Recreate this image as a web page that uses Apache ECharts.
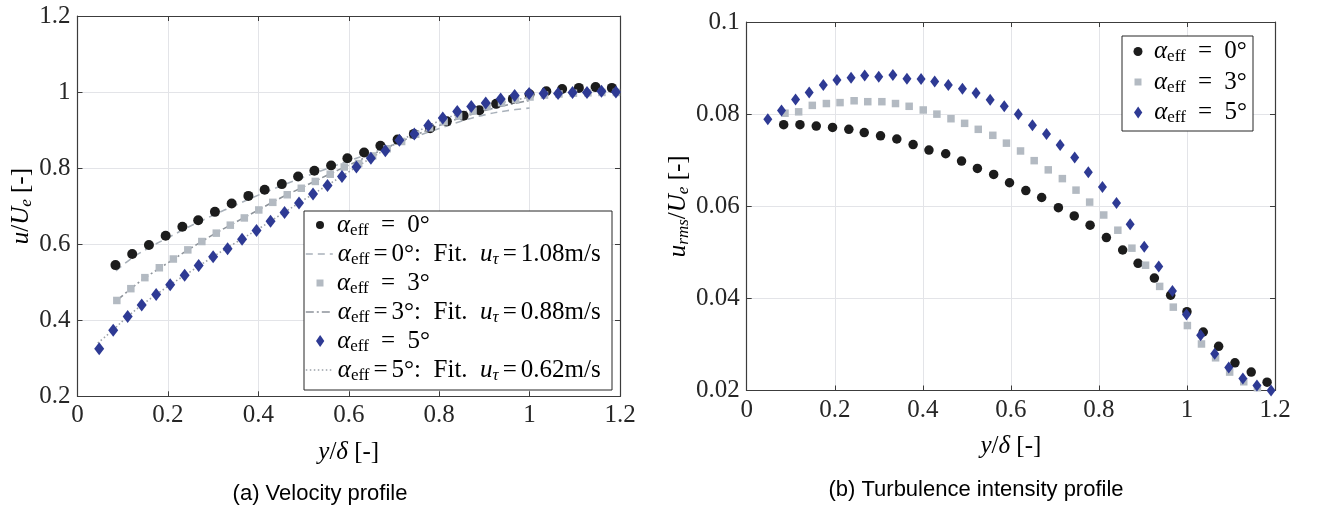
<!DOCTYPE html>
<html><head><meta charset="utf-8">
<script src="https://cdn.jsdelivr.net/npm/echarts@6/dist/echarts.min.js"></script>
<style>html,body{margin:0;padding:0;background:#fff}#c{width:1317px;height:514px}</style>
</head><body><div id="c"></div>
<script>
// ---------- data ----------
const xTicks = [0, 0.2, 0.4, 0.6, 0.8, 1, 1.2];
const uTicks = [0.2, 0.4, 0.6, 0.8, 1, 1.2];
const tTicks = [0.02, 0.04, 0.06, 0.08, 0.1];

const xCirc = [0.084,0.121,0.158,0.195,0.232,0.267,0.304,0.341,0.378,0.414,0.452,0.488,0.524,0.561,0.597,0.634,0.670,0.708,0.744,0.780,0.817,0.854,0.889,0.926,0.963,1.000,1.037,1.072,1.109,1.146,1.182];
const xSq = [0.087,0.118,0.149,0.181,0.212,0.244,0.275,0.307,0.338,0.369,0.401,0.432,0.464,0.495,0.526,0.559,0.590,0.622,0.653,0.685,0.717,0.748,0.779,0.811,0.843,0.875,0.906,0.938,0.969,1.001,1.033,1.065,1.097,1.129,1.160,1.192];
const xDia = [0.048,0.079,0.111,0.142,0.174,0.205,0.237,0.268,0.300,0.332,0.364,0.396,0.427,0.458,0.490,0.521,0.553,0.585,0.617,0.649,0.681,0.712,0.745,0.776,0.808,0.840,0.871,0.903,0.936,0.967,0.999,1.031,1.063,1.095,1.127,1.159,1.191];

// (a) velocity profile u/Ue
const uA0 = [0.545,0.574,0.598,0.622,0.646,0.663,0.685,0.707,0.727,0.743,0.758,0.778,0.793,0.807,0.826,0.841,0.859,0.875,0.890,0.905,0.923,0.938,0.952,0.969,0.982,0.994,1.002,1.008,1.011,1.013,1.011];
const uA3 = [0.452,0.483,0.512,0.538,0.561,0.585,0.607,0.629,0.650,0.669,0.690,0.710,0.730,0.747,0.765,0.784,0.803,0.812,0.832,0.851,0.870,0.889,0.906,0.922,0.937,0.950,0.962,0.972,0.980,0.987,0.992,0.995,0.997,0.998,0.999,0.999];
const uA5 = [0.325,0.374,0.410,0.440,0.468,0.493,0.518,0.544,0.567,0.588,0.613,0.636,0.660,0.683,0.708,0.732,0.754,0.778,0.803,0.826,0.846,0.873,0.890,0.912,0.932,0.949,0.962,0.971,0.982,0.991,0.996,0.996,0.996,0.999,0.999,1.002,1.000];

// log-law fits
const fitX0 = [0.085,0.12,0.16,0.2,0.25,0.3,0.35,0.4,0.45,0.5,0.55,0.6,0.65,0.7,0.75,0.8,0.85,0.9,0.95,1.0];
const fitY0 = [0.530,0.563,0.592,0.617,0.648,0.676,0.703,0.729,0.753,0.776,0.798,0.819,0.840,0.862,0.884,0.904,0.924,0.940,0.951,0.958];
const fitX3 = [0.087,0.12,0.15,0.2,0.25,0.3,0.35,0.4,0.45,0.5,0.55,0.6,0.65,0.7,0.75,0.8,0.85,0.9,0.95,1.0];
const fitY3 = [0.452,0.485,0.512,0.551,0.589,0.625,0.658,0.690,0.722,0.751,0.780,0.808,0.835,0.862,0.888,0.912,0.933,0.951,0.966,0.978];
const fitX5 = [0.045,0.08,0.11,0.15,0.2,0.25,0.3,0.35,0.4,0.45,0.5,0.55,0.6,0.65,0.7,0.75,0.8,0.85,0.9,0.95,1.0];
const fitY5 = [0.340,0.376,0.409,0.447,0.489,0.528,0.567,0.604,0.640,0.678,0.716,0.753,0.790,0.827,0.862,0.895,0.924,0.945,0.962,0.975,0.986];

// (b) turbulence intensity urms/Ue
const tB0 = [0.0777,0.0777,0.0774,0.0771,0.0767,0.0760,0.0753,0.0746,0.0734,0.0722,0.0714,0.0698,0.0682,0.0669,0.0651,0.0634,0.0619,0.0597,0.0579,0.0559,0.0532,0.0505,0.0476,0.0444,0.0407,0.0371,0.0327,0.0296,0.0260,0.0240,0.0218];
const tB3 = [0.0802,0.0805,0.0819,0.0823,0.0825,0.0829,0.0827,0.0827,0.0823,0.0817,0.0809,0.0800,0.0790,0.0780,0.0767,0.0754,0.0737,0.0720,0.0699,0.0679,0.0660,0.0635,0.0609,0.0581,0.0548,0.0509,0.0472,0.0426,0.0381,0.0341,0.0301,0.0271,0.0240,0.0219,0.0206,0.0199];
const tB5 = [0.0789,0.0808,0.0832,0.0847,0.0863,0.0874,0.0879,0.0884,0.0881,0.0885,0.0877,0.0876,0.0871,0.0863,0.0855,0.0846,0.0831,0.0817,0.0800,0.0776,0.0757,0.0733,0.0706,0.0674,0.0642,0.0607,0.0561,0.0512,0.0469,0.0416,0.0365,0.0320,0.0280,0.0250,0.0226,0.0211,0.0200];

// ---------- styling ----------
const SERIF = '"Liberation Serif","DejaVu Serif",serif';
const SANS = '"Liberation Sans",Arial,sans-serif';
const AX = '#3c3c3c', GRID = '#e3e4e8';
const C_BLACK = '#1c1c1c', C_GRAY = '#b3bac2', C_BLUE = '#2e3a94';
const FS = 25;
const R = {
  m:{fontFamily:SERIF,fontStyle:'italic',fontSize:FS,lineHeight:28,color:'#000'},
  r:{fontFamily:SERIF,fontSize:FS,lineHeight:28,color:'#000'},
  e:{fontFamily:SERIF,fontSize:FS,lineHeight:28,color:'#000',padding:[0,6,0,6]},
  q:{fontFamily:SERIF,fontSize:FS,lineHeight:28,color:'#000',padding:[0,4,0,4]},
  s:{fontFamily:SERIF,fontSize:17,lineHeight:17,verticalAlign:'bottom',color:'#000'},
  si:{fontFamily:SERIF,fontStyle:'italic',fontSize:17,lineHeight:17,verticalAlign:'bottom',color:'#000'}
};
const LABELS = {
  c0:'{m|α}{s|eff}{e| = }{r|0°}',
  f0:'{m|α}{s|eff}{q|=}{r|0°:  Fit.  }{m|u}{si|τ}{q|=}{r|1.08m/s}',
  s3:'{m|α}{s|eff}{e| = }{r|3°}',
  f3:'{m|α}{s|eff}{q|=}{r|3°:  Fit.  }{m|u}{si|τ}{q|=}{r|0.88m/s}',
  d5:'{m|α}{s|eff}{e| = }{r|5°}',
  f5:'{m|α}{s|eff}{q|=}{r|5°:  Fit.  }{m|u}{si|τ}{q|=}{r|0.62m/s}',
  C0:'{m|α}{s|eff}{e| = }{r|0°}',
  S3:'{m|α}{s|eff}{e| = }{r|3°}',
  D5:'{m|α}{s|eff}{e| = }{r|5°}'
};
const zip = (xs, ys) => xs.map((x, i) => [x, ys[i]]);
const fmt = v => String(+(+v).toFixed(4));

function mainX(grid, ticks, nameGap){
  return {gridIndex:grid, type:'value', min:ticks[0], max:ticks[ticks.length-1], interval:ticks[1]-ticks[0], position:'bottom',
    axisLine:{show:true,onZero:false,lineStyle:{color:AX,width:1.2}},
    axisTick:{show:true,inside:true,length:5,lineStyle:{color:AX}},
    axisLabel:{margin:7,fontFamily:SERIF,fontSize:FS,color:'#262626',formatter:fmt},
    splitLine:{show:true,lineStyle:{color:GRID,width:1}},
    name:'{m|y}{r|/}{m|δ}{r| [-]}', nameLocation:'middle', nameGap:nameGap, nameTextStyle:{rich:R}};
}
function mirrorX(grid, ticks){
  return {gridIndex:grid, type:'value', min:ticks[0], max:ticks[ticks.length-1], interval:ticks[1]-ticks[0], position:'top',
    axisLine:{show:true,onZero:false,lineStyle:{color:AX,width:1.2}},
    axisTick:{show:true,inside:true,length:5,lineStyle:{color:AX}},
    axisLabel:{show:false}, splitLine:{show:false}};
}
function mainY(grid, ticks, name, nameGap){
  return {gridIndex:grid, type:'value', min:ticks[0], max:ticks[ticks.length-1], interval:+(ticks[1]-ticks[0]).toFixed(4), position:'left',
    axisLine:{show:true,onZero:false,lineStyle:{color:AX,width:1.2}},
    axisTick:{show:true,inside:true,length:5,lineStyle:{color:AX}},
    axisLabel:{margin:7,fontFamily:SERIF,fontSize:FS,color:'#262626',formatter:fmt},
    splitLine:{show:true,lineStyle:{color:GRID,width:1}},
    name:name, nameLocation:'middle', nameGap:nameGap, nameTextStyle:{rich:R}};
}
function mirrorY(grid, ticks){
  return {gridIndex:grid, type:'value', min:ticks[0], max:ticks[ticks.length-1], interval:+(ticks[1]-ticks[0]).toFixed(4), position:'right',
    axisLine:{show:true,onZero:false,lineStyle:{color:AX,width:1.2}},
    axisTick:{show:true,inside:true,length:5,lineStyle:{color:AX}},
    axisLabel:{show:false}, splitLine:{show:false}};
}
// legend entry: the legend box is laid out from the visible bounding box,
// so marker icons are placed from their own left edge.
function leg(name, left, cy, iw, ih, extra){
  return {show:true, data:[Object.assign({name:name}, extra||{})], left:left, top:cy-14, orient:'vertical',
    itemWidth:iw, itemHeight:ih, itemGap:0, padding:0, selectedMode:false, z:6,
    formatter:n=>LABELS[n], textStyle:{rich:R, fontFamily:SERIF, fontSize:FS, color:'#000'}};
}
// marker legend: icon centred at cx, text starting at tx
function legM(name, cx, tx, cy, w, h, extra){
  const iw = 2 * (tx - cx - 5);
  return leg(name, cx - w / 2, cy, iw, h, extra);
}
const SQ_ICON = 'path://M0,0L10,0L10,10L0,10Z';
const DI_ICON = 'path://M4.5,0L9,6.5L4.5,13L0,6.5Z';
const lineItem = (c, t) => ({itemStyle:{opacity:0}, lineStyle:{color:c, width:1.6, type:t}});

const F0T = [7,5], F3T = [8,3,2,3], F5T = [1.5,2.5];
const F0C = '#a9b1ba', F3C = '#8d939a', F5C = '#9ba1a8';

const scatter = (name, xi, yi, data, sym, size, color) => ({type:'scatter', name:name, xAxisIndex:xi, yAxisIndex:yi, data:data,
  symbol:sym, symbolSize:size, itemStyle:{color:color, opacity:1}, emphasis:{disabled:true}, z:2});
const fitLine = (name, data, color, type) => ({type:'line', name:name, xAxisIndex:0, yAxisIndex:0, data:data, smooth:0.35,
  symbol:'none', lineStyle:{color:color, width:1.6, type:type}, emphasis:{disabled:true}, z:2});

const chart = echarts.init(document.getElementById('c'), null, {renderer:'canvas'});
chart.setOption({
  animation:false,
  backgroundColor:'#fff',
  grid:[
    {left:77.5, right:697, top:16, bottom:117.7, containLabel:false},
    {left:746.7, right:42, top:22, bottom:123.5, containLabel:false}
  ],
  xAxis:[mainX(0, xTicks, 42), mirrorX(0, xTicks), mainX(1, xTicks, 42), mirrorX(1, xTicks)],
  yAxis:[
    mainY(0, uTicks, '{m|u}{r|/}{m|U}{si|e}{r| [-]}', 42), mirrorY(0, uTicks),
    mainY(1, tTicks, '{m|u}{si|rms}{r|/}{m|U}{si|e}{r| [-]}', 42), mirrorY(1, tTicks)
  ],
  legend:[
    legM('c0', 320, 337, 226.5, 8, 8),
    leg('f0', 305, 255.5, 27, 10, lineItem(F0C, F0T)),
    legM('s3', 320, 337, 284.5, 7, 7, {icon:SQ_ICON}),
    leg('f3', 305, 313.5, 27, 10, lineItem(F3C, F3T)),
    legM('d5', 320, 337, 342.5, 8, 12, {icon:DI_ICON}),
    leg('f5', 305, 371.5, 27, 10, lineItem(F5C, F5T)),
    legM('C0', 1138, 1154, 53, 9, 9),
    legM('S3', 1138, 1154, 83.5, 7, 7, {icon:SQ_ICON}),
    legM('D5', 1138, 1154, 114, 8, 12, {icon:DI_ICON})
  ],
  graphic:[
    {type:'rect', z:3, shape:{x:304, y:211, width:308, height:179}, style:{fill:'#fff', stroke:'#262626', lineWidth:1}},
    {type:'rect', z:3, shape:{x:1122, y:36, width:131, height:95}, style:{fill:'#fff', stroke:'#262626', lineWidth:1}},
    {type:'text', z:3, x:320, y:494, style:{text:'(a) Velocity profile', font:'22px '+SANS, fill:'#000', textAlign:'center', textVerticalAlign:'middle'}},
    {type:'text', z:3, x:976, y:490, style:{text:'(b) Turbulence intensity profile', font:'22px '+SANS, fill:'#000', textAlign:'center', textVerticalAlign:'middle'}}
  ],
  series:[
    scatter('c0', 0, 0, zip(xCirc, uA0), 'circle', 10, C_BLACK),
    fitLine('f0', zip(fitX0, fitY0), F0C, F0T),
    scatter('s3', 0, 0, zip(xSq, uA3), 'rect', 7.5, C_GRAY),
    fitLine('f3', zip(fitX3, fitY3), F3C, F3T),
    scatter('d5', 0, 0, zip(xDia, uA5), 'diamond', [10,13], C_BLUE),
    fitLine('f5', zip(fitX5, fitY5), F5C, F5T),
    scatter('C0', 2, 2, zip(xCirc, tB0), 'circle', 9.5, C_BLACK),
    scatter('S3', 2, 2, zip(xSq, tB3), 'rect', 7.5, C_GRAY),
    scatter('D5', 2, 2, zip(xDia, tB5), 'diamond', [9,12], C_BLUE)
  ]
});
</script></body></html>
